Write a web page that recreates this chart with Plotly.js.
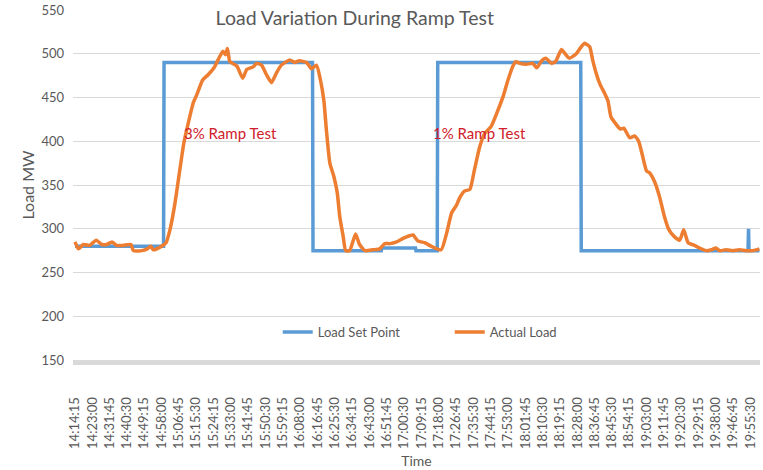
<!DOCTYPE html>
<html>
<head>
<meta charset="utf-8">
<script src="https://cdn.plot.ly/plotly-3.0.1.min.js"></script>
<style>html,body{margin:0;padding:0;background:#fff;}#chart{width:763px;height:470px;}</style>
</head>
<body>
<div id="chart"></div>
<script>
// Load Set Point (step series)
const setTime = ["14:14:15","14:59:00","14:59:15","16:14:15","16:14:30","16:49:00","16:49:15","17:06:15","17:06:30","17:17:15","17:17:30","18:29:45","18:30:00","19:54:15","19:54:30","19:54:45","20:00:00"];
const setLoad = [280,280,490,490,275,275,278,278,275,275,490,490,275,275,300,275,275];

// Actual Load
const actualTime = ["14:14:15","14:16:00","14:18:30","14:21:45","14:25:00","14:27:45","14:30:15","14:33:00","14:35:15","14:38:30","14:42:30","14:43:45","14:48:00","14:50:45","14:52:30","14:53:45","14:57:15","15:00:15","15:02:15","15:04:45","15:07:00","15:09:15","15:11:30","15:14:00","15:15:45","15:18:45","15:21:30","15:24:30","15:26:30","15:29:00","15:30:15","15:31:15","15:32:30","15:36:00","15:39:00","15:41:00","15:44:15","15:46:00","15:48:30","15:51:00","15:53:30","15:56:00","15:58:30","16:02:45","16:05:15","16:07:30","16:11:15","16:13:45","16:16:15","16:18:15","16:20:00","16:21:15","16:23:00","16:25:00","16:26:45","16:28:00","16:29:45","16:31:00","16:33:00","16:36:00","16:38:00","16:40:45","16:44:45","16:48:15","16:50:45","16:53:15","16:56:45","17:00:00","17:03:15","17:05:00","17:07:30","17:11:00","17:14:15","17:19:15","17:22:00","17:24:30","17:27:00","17:28:30","17:31:00","17:33:45","17:36:00","17:38:45","17:41:15","17:44:30","17:48:00","17:50:30","17:53:00","17:55:30","17:57:00","17:59:00","18:02:15","18:05:30","18:07:30","18:10:00","18:12:00","18:15:00","18:17:00","18:20:00","18:21:30","18:24:00","18:27:30","18:30:00","18:31:45","18:34:15","18:35:45","18:37:30","18:39:30","18:41:45","18:43:30","18:45:00","18:47:45","18:49:45","18:51:30","18:54:30","18:57:00","18:59:00","19:01:00","19:03:00","19:04:30","19:07:00","19:09:30","19:12:00","19:14:15","19:17:00","19:19:45","19:21:45","19:24:00","19:27:15","19:29:45","19:33:00","19:35:45","19:38:00","19:40:00","19:43:15","19:46:30","19:50:00","19:53:15","19:56:45","20:00:00"];
const actualLoad = [285,277,282,281,287,282,282,285,281,281,282,275,275,277,280,276,279,284,299,329,364,398,421,444,453,470,476,484,493,503,499,506,491,486,472,482,485,489,487,476,467,478,487,493,490,492,490,483,487,470,446,413,375,360,341,314,291,275,275,294,282,275,276,277,283,283,285,289,292,293,286,284,280,276,295,318,327,335,343,345,367,394,409,417,436,451,470,486,491,489,488,489,484,492,495,489,491,505,501,495,500,508,512,508,493,478,465,455,446,428,419,414,415,404,406,400,383,366,364,354,337,314,299,291,287,299,284,281,278,275,276,278,275,276,275,276,275,275,277];

// X tick labels
const xTickLabels = ["14:14:15","14:23:00","14:31:45","14:40:30","14:49:15","14:58:00","15:06:45","15:15:30","15:24:15","15:33:00","15:41:45","15:50:30","15:59:15","16:08:00","16:16:45","16:25:30","16:34:15","16:43:00","16:51:45","17:00:30","17:09:15","17:18:00","17:26:45","17:35:30","17:44:15","17:53:00","18:01:45","18:10:30","18:19:15","18:28:00","18:36:45","18:45:30","18:54:15","19:03:00","19:11:45","19:20:30","19:29:15","19:38:00","19:46:45","19:55:30"];
const yTicks = [150,200,250,300,350,400,450,500,550];

const day = "2020-01-01 ";
const toDate = t => day + t;

const font = "Lato, 'Open Sans', sans-serif";
const grey = "#595959";

const traces = [
  {
    x: setTime.map(toDate), y: setLoad, name: "Load Set Point",
    type: "scatter", mode: "lines",
    line: {color: "#5B9BD5", width: 3.5}
  },
  {
    x: actualTime.map(toDate), y: actualLoad, name: "Actual Load",
    type: "scatter", mode: "lines",
    line: {color: "#ED7D31", width: 3.5, shape: "spline", smoothing: 0.5}
  }
];

const layout = {
  width: 763, height: 470,
  margin: {l: 73, r: 3, t: 10, b: 110},
  paper_bgcolor: "#fff", plot_bgcolor: "#fff",
  font: {family: font, color: grey},
  title: {
    text: "Load Variation During Ramp Test",
    font: {family: font, size: 19.5, color: grey},
    xref: "container", x: 0.465, xanchor: "center",
    yref: "container", y: 0.962, yanchor: "middle"
  },
  showlegend: true,
  legend: {
    orientation: "h", x: 0.298, xanchor: "left", y: 0.08, yanchor: "middle",
    font: {family: font, size: 13, color: grey},
    bgcolor: "rgba(0,0,0,0)", entrywidth: 127, entrywidthmode: "pixels"
  },
  xaxis: {
    type: "date",
    range: [toDate("14:13:15"), toDate("20:00:18")],
    tickvals: xTickLabels.map(toDate),
    ticktext: xTickLabels,
    tickangle: -90,
    tickfont: {family: font, size: 13, color: grey},
    ticklabelstandoff: 27,
    showgrid: false, zeroline: false,
    showline: true, linecolor: "#D9D9D9", linewidth: 5,
    ticks: "",
    title: {text: "Time", font: {family: font, size: 14, color: grey}, standoff: 10}
  },
  yaxis: {
    range: [150, 550],
    tickvals: yTicks,
    tickfont: {family: font, size: 13, color: grey},
    gridcolor: "#D9D9D9", gridwidth: 1,
    zeroline: false, showline: false, ticks: "",
    ticklabelstandoff: 8,
    title: {text: "Load MW", font: {family: font, size: 16, color: grey}, standoff: 2}
  },
  annotations: [
    {x: toDate("15:33:00"), y: 410, xref: "x", yref: "y", text: "3% Ramp Test", showarrow: false,
     font: {family: font, size: 15, color: "#D0202A"}},
    {x: toDate("17:38:45"), y: 410, xref: "x", yref: "y", text: "1% Ramp Test", showarrow: false,
     font: {family: font, size: 15, color: "#D0202A"}}
  ]
};

Plotly.newPlot("chart", traces, layout, {displayModeBar: false, staticPlot: true});
</script>
</body>
</html>
